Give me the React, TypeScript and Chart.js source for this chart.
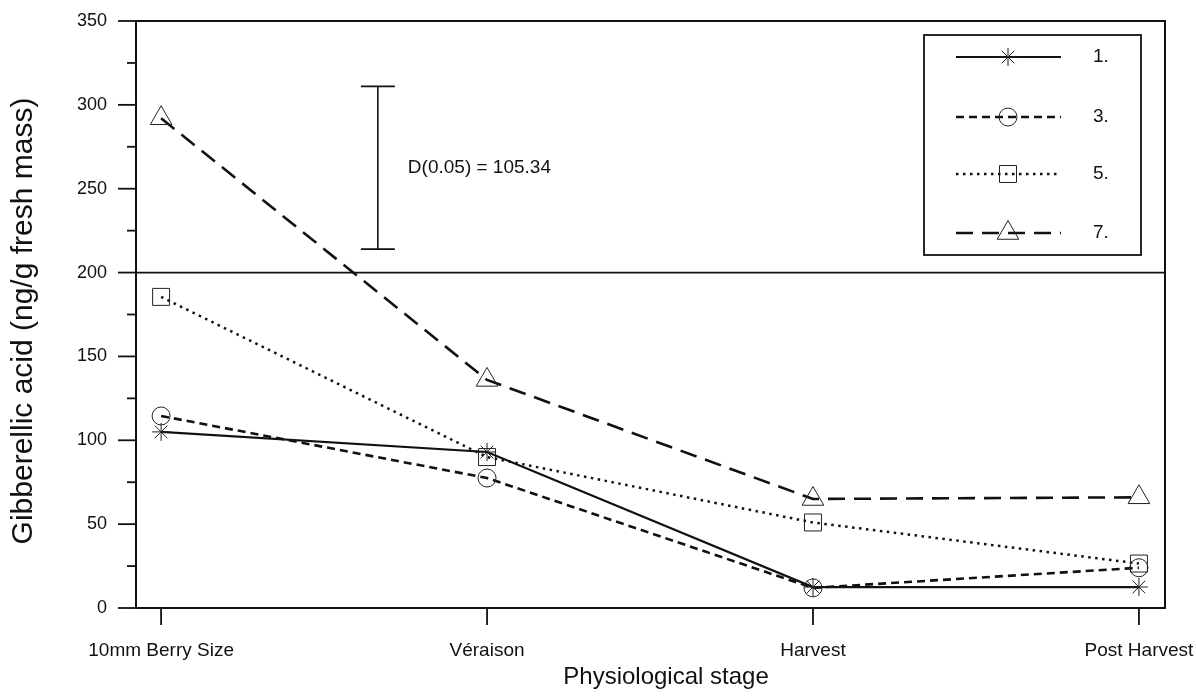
import React, { useEffect, useRef } from 'react';
import { Chart, registerables } from 'chart.js';
import { drawPoint } from 'chart.js/helpers';

Chart.register(...registerables);

// ---- data ----
const categories = ['10mm Berry Size', 'Véraison', 'Harvest', 'Post Harvest'];
const seriesLabels = ['1.', '3.', '5.', '7.'];
const series1 = [105, 93, 12.5, 12.5];
const series3 = [114.5, 77.5, 12, 24];
const series5 = [185.5, 90, 51, 26.5];
const series7 = [292, 136, 65, 66];
const yMin = 0;
const yMax = 350;
const yStep = 25;
const yMajorStep = 50;
const refLineValue = 200;
const lsdTop = 311;
const lsdBottom = 214;
const lsdX = 0.665;
const lsdLabel = 'D(0.05) = 105.34';
const xMin = -0.077;
const xMax = 3.08;
const xTitle = 'Physiological stage';
const yTitle = 'Gibberellic acid (ng/g fresh mass)';

const FONT = '"Liberation Sans", Arial, Helvetica, sans-serif';
const INK = '#111';

const toPts = (arr: number[]) => arr.map((v, i) => ({ x: i, y: v }));

const styles = [
  { dash: [] as number[], width: 2.2, pointStyle: 'star', radius: 9 },
  { dash: [8, 5], width: 2.6, pointStyle: 'circle', radius: 9 },
  { dash: [2.5, 4.5], width: 2.5, pointStyle: 'rect', radius: 12 },
  { dash: [17, 9], width: 2.6, pointStyle: 'triangle', radius: 12.5 },
];

const allSeries = [series1, series3, series5, series7];

const decorPlugin = {
  id: 'decor',
  afterDraw(chart: any) {
    const { ctx, chartArea } = chart;
    const xs = chart.scales.x;
    const ys = chart.scales.y;
    ctx.save();
    ctx.strokeStyle = INK;
    ctx.fillStyle = INK;
    ctx.setLineDash([]);
    // frame top and right
    ctx.lineWidth = 2;
    ctx.beginPath();
    ctx.moveTo(chartArea.left, chartArea.top);
    ctx.lineTo(chartArea.right, chartArea.top);
    ctx.lineTo(chartArea.right, chartArea.bottom);
    ctx.stroke();
    // reference line at 200
    ctx.lineWidth = 1.8;
    const yr = ys.getPixelForValue(refLineValue);
    ctx.beginPath();
    ctx.moveTo(chartArea.left, yr);
    ctx.lineTo(chartArea.right, yr);
    ctx.stroke();
    // y tick marks
    ctx.lineWidth = 1.8;
    for (let v = yMin; v <= yMax; v += yStep) {
      const y = ys.getPixelForValue(v);
      const len = v % yMajorStep === 0 ? 18 : 9;
      ctx.beginPath();
      ctx.moveTo(chartArea.left - len, y);
      ctx.lineTo(chartArea.left, y);
      ctx.stroke();
    }
    // x tick marks
    categories.forEach((_, i) => {
      const x = xs.getPixelForValue(i);
      ctx.beginPath();
      ctx.moveTo(x, chartArea.bottom);
      ctx.lineTo(x, chartArea.bottom + 17);
      ctx.stroke();
    });
    // axis titles
    ctx.textAlign = 'center';
    ctx.textBaseline = 'middle';
    ctx.font = `24px ${FONT}`;
    ctx.fillText(xTitle, 666, 677);
    ctx.save();
    ctx.translate(24, 321);
    ctx.rotate(-Math.PI / 2);
    ctx.font = `30px ${FONT}`;
    ctx.fillText(yTitle, 0, 0);
    ctx.restore();
    // LSD bar
    const lx = xs.getPixelForValue(lsdX);
    const lt = ys.getPixelForValue(lsdTop);
    const lb = ys.getPixelForValue(lsdBottom);
    ctx.lineWidth = 1.6;
    ctx.beginPath();
    ctx.moveTo(lx, lt);
    ctx.lineTo(lx, lb);
    ctx.moveTo(lx - 17, lt);
    ctx.lineTo(lx + 17, lt);
    ctx.moveTo(lx - 17, lb);
    ctx.lineTo(lx + 17, lb);
    ctx.stroke();
    ctx.font = `19px ${FONT}`;
    ctx.textAlign = 'left';
    ctx.textBaseline = 'middle';
    ctx.fillText(lsdLabel, lx + 30, (lt + lb) / 2);
    // legend box
    const bx = chartArea.right - 241;
    const by = chartArea.top + 14;
    const bw = 217;
    const bh = 220;
    ctx.lineWidth = 1.8;
    ctx.strokeRect(bx, by, bw, bh);
    const rowYs = [22, 82, 139, 198];
    chart.data.datasets.forEach((ds: any, i: number) => {
      const y = by + rowYs[i];
      ctx.save();
      ctx.strokeStyle = INK;
      ctx.lineWidth = ds.borderWidth;
      ctx.setLineDash(ds.borderDash || []);
      ctx.beginPath();
      ctx.moveTo(bx + 32, y);
      ctx.lineTo(bx + 137, y);
      ctx.stroke();
      ctx.setLineDash([]);
      ctx.lineWidth = 1;
      ctx.strokeStyle = '#222';
      ctx.fillStyle = 'rgba(0,0,0,0)';
      drawPoint(ctx, { pointStyle: ds.pointStyle, rotation: 0, radius: ds.pointRadius, borderWidth: 1 }, bx + 84, y);
      ctx.restore();
      ctx.fillStyle = INK;
      ctx.font = `19px ${FONT}`;
      ctx.textAlign = 'left';
      ctx.textBaseline = 'middle';
      ctx.fillText(ds.label, bx + 169, y);
    });
    ctx.restore();
  },
};

export default function App() {
  const ref = useRef<HTMLCanvasElement>(null);
  useEffect(() => {
    const datasets = allSeries.map((s, i) => ({
      label: seriesLabels[i],
      data: toPts(s),
      borderColor: INK,
      borderWidth: styles[i].width,
      borderDash: styles[i].dash,
      pointStyle: styles[i].pointStyle,
      pointRadius: styles[i].radius,
      pointHoverRadius: styles[i].radius,
      pointBorderColor: '#222',
      pointBorderWidth: 1,
      pointBackgroundColor: 'rgba(0,0,0,0)',
      fill: false,
      tension: 0,
      clip: false as any,
    }));
    const chart = new Chart(ref.current as HTMLCanvasElement, {
      type: 'line',
      data: { datasets },
      plugins: [decorPlugin],
      options: {
        animation: false,
        responsive: true,
        maintainAspectRatio: false,
        layout: { padding: { left: 0, right: 31, top: 21, bottom: 0 } },
        plugins: { legend: { display: false }, tooltip: { enabled: false } },
        scales: {
          x: {
            type: 'linear',
            min: xMin,
            max: xMax,
            afterBuildTicks: (scale: any) => {
              scale.ticks = categories.map((_, i) => ({ value: i }));
            },
            afterFit: (scale: any) => {
              scale.height = 91;
              scale.paddingLeft = 0;
              scale.paddingRight = 0;
            },
            grid: { display: false, drawTicks: false },
            border: { display: true, color: INK, width: 2 },
            ticks: {
              autoSkip: false,
              maxRotation: 0,
              padding: 31,
              color: INK,
              font: { family: FONT, size: 19 },
              callback: (v: any) => categories[v] ?? '',
            },
            title: { display: false },
          },
          y: {
            type: 'linear',
            min: yMin,
            max: yMax,
            afterBuildTicks: (scale: any) => {
              const t = [];
              for (let v = yMin; v <= yMax; v += yMajorStep) t.push({ value: v });
              scale.ticks = t;
            },
            afterFit: (scale: any) => {
              scale.width = 136;
              scale.paddingTop = 0;
              scale.paddingBottom = 0;
            },
            grid: { display: false, drawTicks: false },
            border: { display: true, color: INK, width: 2 },
            ticks: {
              padding: 29,
              color: INK,
              font: { family: FONT, size: 18 },
            },
            title: { display: false },
          },
        },
      },
    });
    return () => chart.destroy();
  }, []);
  return (
    <div style={{ position: 'absolute', left: 0, top: 0, width: 1196, height: 699, background: '#fff' }}>
      <canvas ref={ref} />
    </div>
  );
}
